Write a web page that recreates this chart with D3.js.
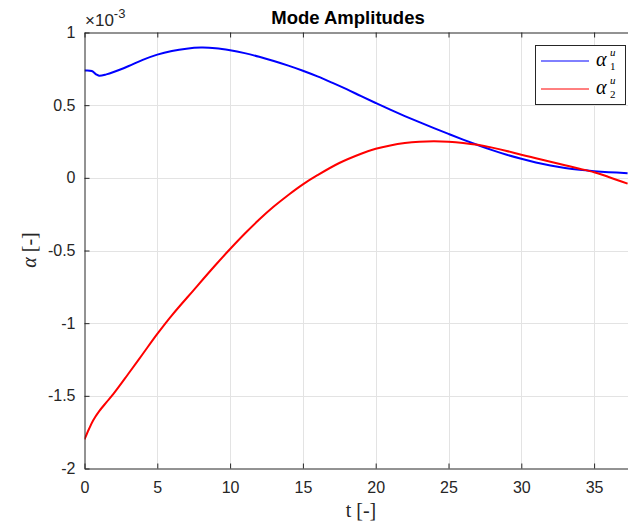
<!DOCTYPE html>
<html>
<head>
<meta charset="utf-8">
<script src="https://cdn.jsdelivr.net/npm/d3@7"></script>
<style>
body{margin:0;background:#fff;}
svg text{font-family:"Liberation Sans",Arial,sans-serif;}
.tex{font-family:"Liberation Serif","DejaVu Serif",serif;}
</style>
</head>
<body>
<div id="chart"></div>
<script>
// time samples and the two mode amplitudes (x 1e-3)
var t_vals = [0,0.5,0.8,1,1.5,2,3,4,5,6,7,8,9,10,11,12,13,14,15,16,17,18,19,20,21,22,23,24,25,26,27,28,29,30,31,32,33,34,35,36,37.3]
var alpha1 = [0.738,0.735,0.712,0.703,0.712,0.728,0.768,0.812,0.848,0.873,0.889,0.896,0.892,0.878,0.858,0.833,0.804,0.772,0.737,0.698,0.655,0.61,0.562,0.515,0.469,0.425,0.383,0.342,0.302,0.263,0.226,0.191,0.159,0.131,0.106,0.085,0.068,0.055,0.046,0.039,0.032]
var t_vals2 = [0,0.3,0.6,1,1.5,2,3,4,5,6,7.5,9,10,11,12,13,14,15,16,17.5,19,20,21,22,23,24,25,26,27,28,29,30,31,32,33,34,35,36,37.3]
var alpha2 = [-1.8,-1.73,-1.668,-1.607,-1.545,-1.485,-1.35,-1.212,-1.074,-0.946,-0.772,-0.6,-0.49,-0.385,-0.287,-0.198,-0.118,-0.045,0.018,0.102,0.166,0.2,0.223,0.239,0.248,0.251,0.248,0.24,0.227,0.208,0.185,0.159,0.135,0.111,0.087,0.063,0.038,0.006,-0.04]
var x_ticks = [0,5,10,15,20,25,30,35]
var y_ticks = [-2,-1.5,-1,-0.5,0,0.5,1]
var series_colors = ["#0000ff","#ff0000"]
var legend_subs = ["1","2"]

var W = 628, H = 526
var pl = 84.5, pt = 32.5, pr = 630.5, pb = 468.5

var svg = d3.select("#chart").append("svg").attr("width",W).attr("height",H)

var x = d3.scaleLinear().domain([0,37.5]).range([pl,pr])
var y = d3.scaleLinear().domain([-2,1]).range([pb,pt])

svg.append("defs").append("clipPath").attr("id","clip")
    .append("rect").attr("x",pl).attr("y",pt).attr("width",pr-pl).attr("height",pb-pt)

// grid
var grid = svg.append("g")
grid.selectAll(".gx").data(x_ticks.slice(1)).enter().append("line")
    .attr("x1",d=>Math.round(x(d))+0.5).attr("x2",d=>Math.round(x(d))+0.5)
    .attr("y1",pt).attr("y2",pb)
    .attr("stroke","#e3e3e3").attr("stroke-width",1)
grid.selectAll(".gy").data(y_ticks.slice(1,-1)).enter().append("line")
    .attr("y1",d=>Math.round(y(d))+0.5).attr("y2",d=>Math.round(y(d))+0.5)
    .attr("x1",pl).attr("x2",pr)
    .attr("stroke","#e3e3e3").attr("stroke-width",1)

// curves
var line = d3.line().x(d=>x(d[0])).y(d=>y(d[1])).curve(d3.curveCatmullRom.alpha(0.5))
var plot = svg.append("g").attr("clip-path","url(#clip)")
plot.append("path").datum(d3.zip(t_vals,alpha1))
    .attr("d",line).attr("fill","none").attr("stroke",series_colors[0]).attr("stroke-width",2)
plot.append("path").datum(d3.zip(t_vals2,alpha2))
    .attr("d",line).attr("fill","none").attr("stroke",series_colors[1]).attr("stroke-width",2)

// axes
var xAxis = svg.append("g").attr("transform","translate(0,"+pb+")")
    .call(d3.axisBottom(x).tickValues(x_ticks).tickSizeInner(-5).tickSizeOuter(0).tickPadding(10))
var xTop = svg.append("g").attr("transform","translate(0,"+pt+")")
    .call(d3.axisTop(x).tickValues(x_ticks).tickSizeInner(-5).tickSizeOuter(0).tickFormat(""))
var yAxis = svg.append("g").attr("transform","translate("+pl+",0)")
    .call(d3.axisLeft(y).tickValues(y_ticks).tickSizeInner(-5).tickSizeOuter(0).tickPadding(9)
        .tickFormat(d=>String(d)))
;[xAxis,xTop,yAxis].forEach(function(g){
    g.select(".domain").attr("stroke","#262626").attr("stroke-width",1)
    g.selectAll(".tick line").attr("stroke","#262626")
    g.selectAll(".tick text").attr("fill","#262626").style("font-size","16px")
})
xAxis.selectAll(".tick text").attr("dy","0.9em")

// exponent label
var ex = svg.append("text").attr("x",85).attr("y",26).attr("fill","#262626").style("font-size","17px")
ex.append("tspan").text("\u00d710")
ex.append("tspan").attr("dy",-8).style("font-size","13px").text("-3")

// title
svg.append("text").attr("x",348).attr("y",24).attr("text-anchor","middle")
    .style("font-size","18.5px").style("font-weight","bold").attr("fill","#000").text("Mode Amplitudes")

// axis labels
var xl = svg.append("text").attr("class","tex").attr("x",361).attr("y",517).attr("text-anchor","middle")
    .style("font-size","20px").attr("fill","#262626")
xl.append("tspan").text("t ")
xl.append("tspan").text("[-]")
var yl = svg.append("text").attr("class","tex").attr("transform","translate(36,250) rotate(-90)")
    .attr("text-anchor","middle").style("font-size","20px").attr("fill","#262626")
yl.append("tspan").style("font-style","italic").text("\u03b1")
yl.append("tspan").text(" [-]")

// legend
var lg = svg.append("g")
lg.append("rect").attr("x",535.5).attr("y",45.5).attr("width",90).attr("height",59)
    .attr("fill","#fff").attr("stroke","#262626").attr("stroke-width",1)
legend_subs.forEach(function(k,i){
    var yy = 61 + i*28
    lg.append("line").attr("x1",541).attr("x2",589).attr("y1",yy).attr("y2",yy)
        .attr("stroke",series_colors[i]).attr("stroke-width",1)
    lg.append("text").attr("class","tex").attr("x",596).attr("y",yy+5)
        .style("font-size","20px").style("font-style","italic").attr("fill","#000").text("\u03b1")
    lg.append("text").attr("class","tex").attr("x",610).attr("y",yy-5)
        .style("font-size","11px").style("font-style","italic").attr("fill","#000").text("u")
    lg.append("text").attr("class","tex").attr("x",610).attr("y",yy+9)
        .style("font-size","11px").attr("fill","#000").text(k)
})
</script>
</body>
</html>
